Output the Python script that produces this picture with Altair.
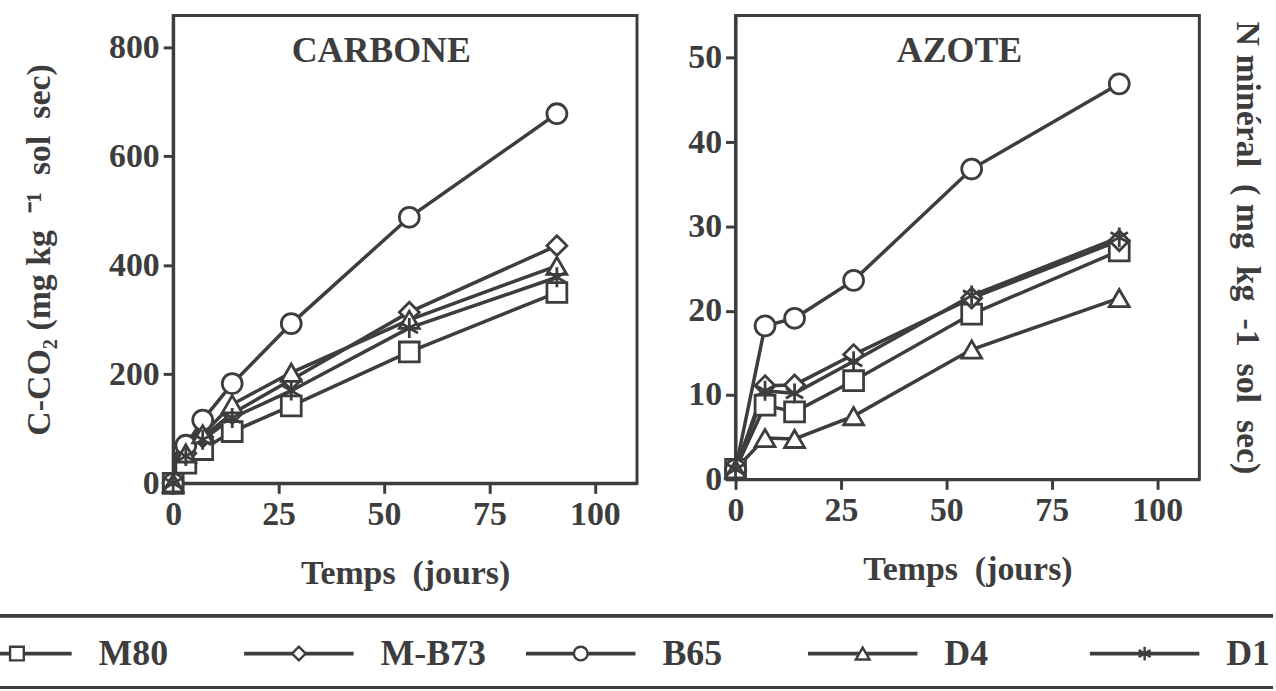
import altair as alt
import pandas as pd

DARK = "#3d3d3d"
FONT = "Liberation Serif"

series = ["M80", "M-B73", "B65", "D4", "D1"]
ASTER = "M0,-1L0,1M-0.87,-0.5L0.87,0.5M-0.87,0.5L0.87,-0.5"
shapes = ["square", "diamond", "circle", "triangle-up", ASTER]

# CARBONE (C-CO2, mg/kg)
c_days = [0, 3, 7, 14, 28, 56, 91]
c_m80 = [0, 37, 62, 95, 142, 241, 350]
c_mb73 = [0, 55, 85, 128, 190, 314, 436]
c_b65 = [0, 70, 116, 183, 293, 488, 678]
c_d4 = [0, 55, 90, 145, 203, 300, 399]
c_d1 = [0, 50, 80, 120, 170, 285, 378]

# AZOTE (N mineral, mg/kg)
n_days = [0, 7, 14, 28, 56, 91]
n_m80 = [1.2, 8.8, 8.0, 11.7, 19.6, 27.1]
n_mb73 = [1.2, 11.1, 11.2, 14.8, 21.5, 28.3]
n_b65 = [1.2, 18.2, 19.1, 23.6, 36.8, 46.9]
n_d4 = [1.2, 4.9, 4.8, 7.5, 15.4, 21.5]
n_d1 = [1.2, 10.5, 10.2, 14.0, 21.8, 28.7]

x_ticks = [0, 25, 50, 75, 100]
c_ticks = [0, 200, 400, 600, 800]
n_ticks = [0, 10, 20, 30, 40, 50]

NB = "\u00a0"


def long(days, cols):
    rows = []
    for name, vals in zip(series, cols):
        for d, v in zip(days, vals):
            rows.append({"serie": name, "jours": d, "v": v})
    return pd.DataFrame(rows)


df_c = long(c_days, [c_m80, c_mb73, c_b65, c_d4, c_d1])
df_n = long(n_days, [n_m80, n_mb73, n_b65, n_d4, n_d1])

shape_scale = alt.Scale(domain=series, range=shapes)
W = 466


def panel(df, ydomain, yticks, title_text, tx, H, left_title, right_title=None):
    xenc = alt.X("jours:Q", scale=alt.Scale(domain=[0, 110], nice=False),
                 axis=alt.Axis(values=x_ticks, title="Temps" + NB + NB + "(jours)", titlePadding=26,
                               labelFlush=False))
    left_axis = alt.Axis(values=yticks, title=left_title if left_title else "", titlePadding=52,
                         orient="left", labelFlush=False)
    yscale = alt.Scale(domain=ydomain, nice=False)
    lines = alt.Chart(df).mark_line(color=DARK, strokeWidth=3.5).encode(
        x=xenc,
        y=alt.Y("v:Q", scale=yscale, axis=left_axis),
        detail="serie:N",
    )
    if right_title:
        paxis = alt.Axis(orient="right", labels=False, ticks=False, domain=False,
                         title=right_title, titleAngle=90, titlePadding=30, titleBaseline="bottom")
    else:
        paxis = left_axis
    pts = alt.Chart(df).mark_point(filled=True, fill="white", stroke=DARK, strokeWidth=2.8,
                                   size=400, opacity=1).encode(
        x=xenc,
        y=alt.Y("v:Q", scale=yscale, axis=paxis),
        shape=alt.Shape("serie:N", scale=shape_scale, legend=None),
    )
    txt = alt.Chart(pd.DataFrame({"t": [title_text]})).mark_text(
        font=FONT, fontWeight="bold", fontSize=36, color=DARK, align="center", baseline="middle"
    ).encode(x=alt.value(tx), y=alt.value(36), text="t:N")
    layer = alt.layer(lines, pts, txt).properties(width=W, height=H)
    if right_title:
        layer = layer.resolve_axis(y="independent")
    return layer


left = panel(df_c, [0, 858], c_ticks, "CARBONE", 209, 470,
             "C-CO₂" + NB + "(mg" + NB + "kg" + NB + NB + "⁻¹" + NB + NB + "sol" + NB + NB + "sec)")
right = panel(df_n, [0, 55], n_ticks, "AZOTE", 225, 466, None,
              right_title="N" + NB + "minéral" + NB + NB + "(" + NB + "mg" + NB + NB + "kg" + NB + NB
              + "-1" + NB + NB + "sol" + NB + NB + "sec)")

top = alt.hconcat(left, right, spacing=47)

leg_df = pd.DataFrame({"serie": series})
lx = alt.X("serie:N", scale=alt.Scale(type="point", domain=series, range=[-157, 976], padding=0),
           axis=None)
LY = 38
rules_top = alt.Chart(leg_df).mark_rule(color=DARK, strokeWidth=3).encode(
    x=alt.value(-212), x2=alt.value(1105), y=alt.value(0))
rules_bot = alt.Chart(leg_df).mark_rule(color=DARK, strokeWidth=3).encode(
    x=alt.value(-212), x2=alt.value(1105), y=alt.value(72))
segs = alt.Chart(leg_df).mark_rule(color=DARK, strokeWidth=3.8, xOffset=-55, x2Offset=55).encode(
    x=lx, x2="serie:N", y=alt.value(LY))
lpts = alt.Chart(leg_df).mark_point(filled=True, fill="white", stroke=DARK, strokeWidth=2.4,
                                    size=190, opacity=1).encode(
    x=lx, y=alt.value(LY), shape=alt.Shape("serie:N", scale=shape_scale, legend=None))
ltxt = alt.Chart(leg_df).mark_text(font=FONT, fontWeight="bold", fontSize=36, color=DARK,
                                   align="left", baseline="middle", dx=82).encode(
    x=lx, y=alt.value(LY), text="serie:N")
legend = alt.layer(rules_top, rules_bot, segs, lpts, ltxt).properties(
    width=1105, height=72, view=alt.ViewBackground(stroke="transparent"))

chart = alt.vconcat(top, legend, spacing=20).properties(
    padding={"left": -42, "top": 12, "right": 0, "bottom": 0},
    background="white",
).configure_view(stroke=DARK, strokeWidth=3).configure_axis(
    domainColor=DARK, domainWidth=3, tickColor=DARK, tickWidth=3, tickSize=10,
    labelFont=FONT, labelFontSize=34, labelFontWeight="bold", labelColor=DARK, labelPadding=4,
    titleFont=FONT, titleFontSize=34, titleFontWeight="bold", titleColor=DARK, grid=False,
)

chart.save("out.html", embed_options={"renderer": "svg", "actions": False})
